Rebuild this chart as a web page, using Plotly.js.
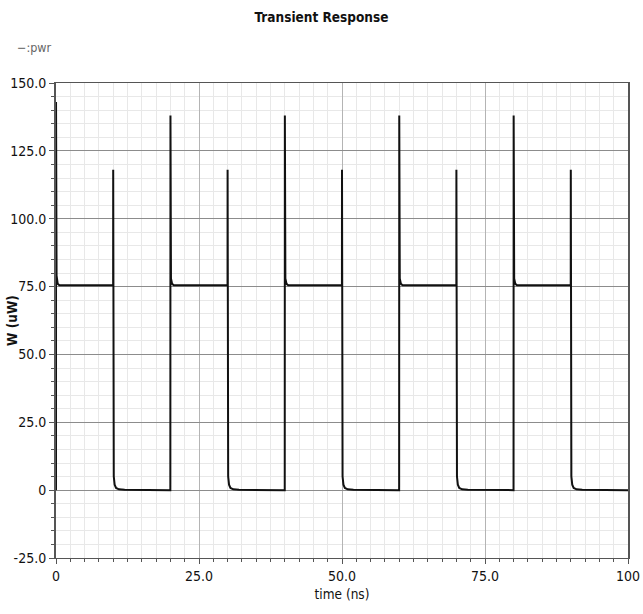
<!DOCTYPE html>
<html>
<head>
<meta charset="utf-8">
<script src="https://cdn.plot.ly/plotly-3.0.1.min.js"></script>
<style>html,body{margin:0;padding:0;background:#fff;}#chart{width:643px;height:614px;}</style>
</head>
<body>
<div id="chart"></div>
<script>
// time in ns
var timeNs = [
  0, 0.005, 0.02, 0.1, 0.3, 0.6, 9.99,
  10.0, 10.01, 10.02, 10.03, 10.1, 10.25, 10.5, 11.0, 12.0, 19.99,
  20.0, 20.01, 20.03, 20.1, 20.3, 20.6, 29.99,
  30.0, 30.01, 30.02, 30.03, 30.1, 30.25, 30.5, 31.0, 32.0, 39.99,
  40.0, 40.01, 40.03, 40.1, 40.3, 40.6, 49.99,
  50.0, 50.01, 50.02, 50.03, 50.1, 50.25, 50.5, 51.0, 52.0, 59.99,
  60.0, 60.01, 60.03, 60.1, 60.3, 60.6, 69.99,
  70.0, 70.01, 70.02, 70.03, 70.1, 70.25, 70.5, 71.0, 72.0, 79.99,
  80.0, 80.01, 80.03, 80.1, 80.3, 80.6, 89.99,
  90.0, 90.01, 90.02, 90.03, 90.1, 90.25, 90.5, 91.0, 92.0, 100
];
// power in uW
var powerUw = [
  0, 143, 82, 79, 76, 75.5, 75.5,
  118, 66, 40, 14, 5, 2, 0.8, 0.3, 0.1, 0,
  17, 138, 81, 78, 76, 75.5, 75.5,
  118, 66, 40, 14, 5, 2, 0.8, 0.3, 0.1, 0,
  20, 138, 81, 78, 76, 75.5, 75.5,
  118, 55, 40, 14, 5, 2, 0.8, 0.3, 0.1, 0,
  62, 138, 81, 78, 76, 75.5, 75.5,
  118, 55, 40, 14, 5, 2, 0.8, 0.3, 0.1, 0,
  20, 138, 81, 78, 76, 75.5, 75.5,
  118, 40, 40, 14, 5, 2, 0.8, 0.3, 0.1, 0
];
var xTickVals = [0, 25, 50, 75, 100];
var xTickText = ["0", "25.0", "50.0", "75.0", "100"];
var yTickVals = [-25, 0, 25, 50, 75, 100, 125, 150];
var yTickText = ["-25.0", "0", "25.0", "50.0", "75.0", "100.0", "125.0", "150.0"];

var FONT = "DejaVu Sans Condensed, sans-serif";

var trace = {
  x: timeNs, y: powerUw, type: "scatter", mode: "lines", name: ":pwr",
  line: {color: "#111111", width: 2}, hoverinfo: "skip"
};

var layout = {
  width: 643, height: 614,
  margin: {l: 56, r: 15, t: 83, b: 56},
  paper_bgcolor: "#ffffff", plot_bgcolor: "#ffffff",
  showlegend: false,
  title: {text: "<b>Transient Response</b>", xref: "container", x: 0.5, y: 0.972, yanchor: "middle",
          font: {family: FONT, size: 13.5, color: "#111"}},
  xaxis: {
    range: [0, 100], tickmode: "array", tickvals: xTickVals, ticktext: xTickText,
    showgrid: true, gridcolor: "#b4b4b4", gridwidth: 1,
    showline: true, linecolor: "#555", linewidth: 1, mirror: true,
    ticks: "outside", ticklen: 5, tickcolor: "#555",
    zeroline: false,
    tickfont: {family: FONT, size: 14, color: "#111"},
    minor: {dtick: 2.5, tick0: 0, showgrid: true, gridcolor: "#e8e8e8", ticks: "outside", ticklen: 3, tickcolor: "#555"},
    title: {text: "time (ns)", font: {family: FONT, size: 13.5, color: "#111"}, standoff: 6}
  },
  yaxis: {
    range: [-25, 150], tickmode: "array", tickvals: yTickVals, ticktext: yTickText,
    showgrid: true, gridcolor: "#8c8c8c", gridwidth: 1,
    showline: true, linecolor: "#555", linewidth: 2, mirror: true,
    ticks: "outside", ticklen: 5, tickcolor: "#555",
    zeroline: false,
    tickfont: {family: FONT, size: 14, color: "#111"},
    minor: {dtick: 5, tick0: 0, showgrid: true, gridcolor: "#e8e8e8", ticks: "outside", ticklen: 3, tickcolor: "#555"}
  },
  annotations: [
    {text: "W (uW)", xref: "paper", yref: "paper", x: -0.078, y: 0.5, xanchor: "center", yanchor: "middle",
     textangle: -90, showarrow: false, font: {family: FONT, size: 13.5, color: "#111", weight: "bold"}},
    {text: "\u2212:pwr", xref: "paper", yref: "paper", x: -0.072, y: 1.075, xanchor: "left", yanchor: "middle",
     showarrow: false, font: {family: FONT, size: 12.5, color: "#666"}}
  ]
};

Plotly.newPlot("chart", [trace], layout, {displayModeBar: false, staticPlot: true});
</script>
</body>
</html>
